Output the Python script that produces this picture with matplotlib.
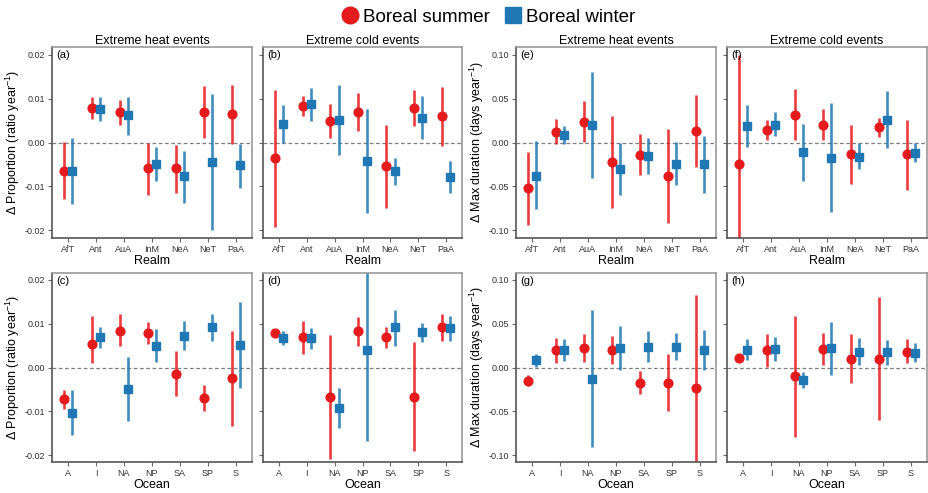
import matplotlib
matplotlib.use("Agg")
import matplotlib.pyplot as plt
from matplotlib.lines import Line2D
import numpy as np

plt.rcParams['font.family'] = ['Liberation Sans', 'DejaVu Sans']
plt.rcParams['mathtext.fontset'] = 'custom'
plt.rcParams['mathtext.rm'] = 'Liberation Sans'
plt.rcParams['mathtext.it'] = 'Liberation Sans:italic'

realms = ["AfT", "Ant", "AuA", "InM", "NeA", "NeT", "PaA"]
oceans = ["A", "I", "NA", "NP", "SA", "SP", "S"]

# (estimate, lower, upper) per category
a_summer = [(-0.0064, -0.0130, 0.0002), (0.0079, 0.0053, 0.0103), (0.0069, 0.0039, 0.0098), (-0.0058, -0.0120, 0.0000),
            (-0.0058, -0.0115, -0.0005), (0.0069, 0.0011, 0.0128), (0.0064, -0.0003, 0.0131)]
a_winter = [(-0.0066, -0.0140, 0.0010), (0.0076, 0.0050, 0.0105), (0.0062, 0.0018, 0.0105), (-0.0049, -0.0089, -0.0011),
            (-0.0076, -0.0138, -0.0020), (-0.0044, -0.0200, 0.0111), (-0.0052, -0.0103, -0.0004)]

b_summer = [(-0.0036, -0.0192, 0.0120), (0.0083, 0.0060, 0.0107), (0.0049, 0.0011, 0.0089), (0.0069, 0.0027, 0.0112),
            (-0.0054, -0.0149, 0.0041), (0.0079, 0.0038, 0.0120), (0.0061, -0.0008, 0.0127)]
b_winter = [(0.0042, 0.0000, 0.0086), (0.0087, 0.0050, 0.0124), (0.0052, -0.0028, 0.0132), (-0.0042, -0.0161, 0.0076),
            (-0.0066, -0.0098, -0.0036), (0.0057, 0.0007, 0.0106), (-0.0079, -0.0115, -0.0043)]

c_summer = [(-0.0072, -0.0094, -0.0052), (0.0054, 0.0011, 0.0118), (0.0084, 0.0049, 0.0121), (0.0079, 0.0054, 0.0104),
            (-0.0014, -0.0065, 0.0037), (-0.0069, -0.0099, -0.0039), (-0.0025, -0.0134, 0.0083)]
c_winter = [(-0.0104, -0.0153, -0.0052), (0.0070, 0.0045, 0.0092), (-0.0049, -0.0122, 0.0024), (0.0050, 0.0012, 0.0088),
            (0.0072, 0.0040, 0.0105), (0.0092, 0.0061, 0.0122), (0.0052, -0.0046, 0.0150)]

d_summer = [(0.0078, 0.0072, 0.0084), (0.0069, 0.0030, 0.0105), (-0.0068, -0.0209, 0.0073), (0.0082, 0.0049, 0.0115),
            (0.0069, 0.0045, 0.0092), (-0.0066, -0.0189, 0.0058), (0.0092, 0.0060, 0.0122)]
d_winter = [(0.0068, 0.0051, 0.0082), (0.0068, 0.0043, 0.0090), (-0.0092, -0.0137, -0.0047), (0.0039, -0.0168, 0.0230),
            (0.0092, 0.0050, 0.0131), (0.0080, 0.0058, 0.0102), (0.0090, 0.0060, 0.0118)]

e_summer = [(-0.0523, -0.0943, -0.0110), (0.0121, -0.0015, 0.0269), (0.0235, 0.0004, 0.0477), (-0.0227, -0.0742, 0.0299),
            (-0.0140, -0.0371, 0.0098), (-0.0386, -0.0924, 0.0155), (0.0129, -0.0280, 0.0545)]
e_winter = [(-0.0383, -0.0761, 0.0015), (0.0087, -0.0015, 0.0193), (0.0205, -0.0409, 0.0807), (-0.0307, -0.0602, -0.0004),
            (-0.0152, -0.0356, 0.0049), (-0.0250, -0.0485, 0.0004), (-0.0250, -0.0580, 0.0072)]

f_summer = [(-0.0242, -0.1300, 0.1000), (0.0148, 0.0023, 0.0261), (0.0318, 0.0027, 0.0610), (0.0205, 0.0023, 0.0386),
            (-0.0136, -0.0477, 0.0205), (0.0178, 0.0061, 0.0280), (-0.0136, -0.0542, 0.0261)]
f_winter = [(0.0186, -0.0049, 0.0432), (0.0205, 0.0072, 0.0345), (-0.0106, -0.0439, 0.0216), (-0.0174, -0.0792, 0.0451),
            (-0.0163, -0.0307, -0.0004), (0.0258, -0.0061, 0.0583), (-0.0117, -0.0223, -0.0004)]

g_summer = [(-0.0152, -0.0216, -0.0091), (0.0194, 0.0049, 0.0338), (0.0224, 0.0061, 0.0376), (0.0201, 0.0042, 0.0353),
            (-0.0171, -0.0307, -0.0042), (-0.0175, -0.0490, 0.0148), (-0.0231, -0.1200, 0.0824)]
g_winter = [(0.0091, 0.0011, 0.0156), (0.0194, 0.0072, 0.0326), (-0.0129, -0.0907, 0.0649), (0.0220, -0.0027, 0.0471),
            (0.0231, 0.0061, 0.0410), (0.0231, 0.0080, 0.0391), (0.0194, -0.0027, 0.0421)]

h_summer = [(0.0106, 0.0061, 0.0144), (0.0194, 0.0011, 0.0376), (-0.0102, -0.0793, 0.0581), (0.0205, 0.0030, 0.0391),
            (0.0099, -0.0175, 0.0376), (0.0099, -0.0592, 0.0801), (0.0182, 0.0049, 0.0319)]
h_winter = [(0.0194, 0.0080, 0.0319), (0.0205, 0.0072, 0.0345), (-0.0137, -0.0235, -0.0046), (0.0220, -0.0083, 0.0516),
            (0.0182, 0.0030, 0.0338), (0.0182, 0.0034, 0.0315), (0.0167, 0.0057, 0.0281)]

RED = "#E41A1C"
BLUE = "#1F78B4"
W, H = 929, 493

fig = plt.figure(figsize=(W / 100, H / 100), dpi=100)

# panel edges in pixels
cols = [(52, 252), (263, 462), (516, 716), (727, 927)]
rows = [(47, 238), (273, 462)]

panels = [
    ("a", 0, 0, a_summer, a_winter, "prop"), ("b", 0, 1, b_summer, b_winter, "prop"),
    ("e", 0, 2, e_summer, e_winter, "dur"), ("f", 0, 3, f_summer, f_winter, "dur"),
    ("c", 1, 0, c_summer, c_winter, "prop"), ("d", 1, 1, d_summer, d_winter, "prop"),
    ("g", 1, 2, g_summer, g_winter, "dur"), ("h", 1, 3, h_summer, h_winter, "dur"),
]
ticks = np.array([-0.02, -0.01, 0.0, 0.01, 0.02])

for letter, r, c, summer, winter, kind in panels:
    x0, x1 = cols[c]
    y0, y1 = rows[r]
    ax = fig.add_axes([x0 / W, 1 - y1 / H, (x1 - x0) / W, (y1 - y0) / H])
    cats = realms if r == 0 else oceans
    x = np.arange(1, len(cats) + 1)

    for data, dx, col, mk, ms in [(summer, -0.15, RED, "o", 6.3), (winter, 0.15, BLUE, "s", 6.0)]:
        d = np.array(data)
        ax.vlines(x + dx, d[:, 1], d[:, 2], color=col, lw=1.9, alpha=0.85, zorder=2)
        ax.plot(x + dx, d[:, 0], mk, color=col, ms=ms, mec=col, zorder=3)

    ax.axhline(0, color="#7f7f7f", lw=0.9, ls=(0, (3, 2)), zorder=1)
    ax.set_xlim(1 - 0.57, len(cats) + 0.57)
    scale = 1 if kind == "prop" else 5
    lim = 0.0218 if r == 0 else 0.0215
    ax.set_ylim(-lim * scale, lim * scale)
    ax.set_yticks(ticks * scale)
    ax.set_xticks(x)
    ax.set_xticklabels(cats)
    if c in (0, 2):
        ax.set_yticklabels([f"{v:.2f}" for v in ticks * scale])
        if kind == "prop":
            ax.set_ylabel("Δ Proportion (ratio year$^{-1}$)", fontsize=9, labelpad=2)
        else:
            ax.set_ylabel("Δ Max duration (days year$^{-1}$)", fontsize=9, labelpad=2)
    else:
        ax.set_yticklabels([])

    ax.tick_params(axis="both", labelsize=6.5, labelcolor="#333333", color="#666666", length=3, width=0.8, pad=2)
    for side in ["top", "right"]:
        ax.spines[side].set_color("#9a9a9a")
        ax.spines[side].set_linewidth(1.2)
    for side in ["left", "bottom"]:
        ax.spines[side].set_color("#555555")
        ax.spines[side].set_linewidth(1.2)

    if r == 0:
        ax.set_title("Extreme heat events" if c in (0, 2) else "Extreme cold events", fontsize=9, pad=2)
        ax.set_xlabel("Realm", fontsize=9, labelpad=1)
    else:
        ax.set_xlabel("Ocean", fontsize=9, labelpad=1)
    ax.text(0.02, 0.985, f"({letter})", transform=ax.transAxes, ha="left", va="top", fontsize=8)

handles = [
    Line2D([], [], marker="o", color=RED, ls="none", ms=12),
    Line2D([], [], marker="s", color=BLUE, ls="none", ms=11),
]
fig.legend(handles, ["Boreal summer", "Boreal winter"], loc="center", bbox_to_anchor=(487 / W, 1 - 17 / H),
           ncol=2, frameon=False, fontsize=13.5, handletextpad=0.1, columnspacing=0.6, handlelength=1.2)

fig.savefig("out.png", dpi=100)
